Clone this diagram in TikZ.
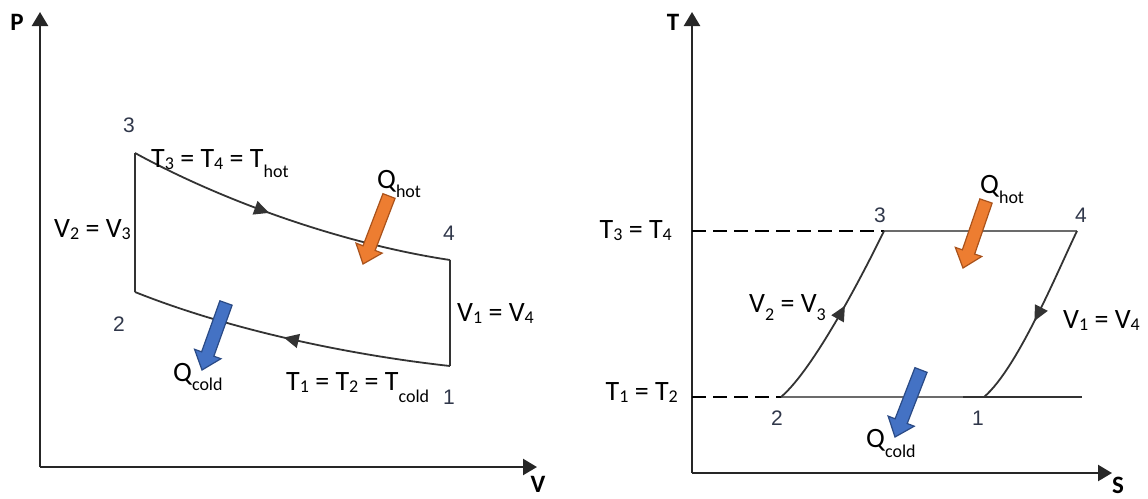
\documentclass[tikz,border=0pt]{standalone}
\usepackage{fontspec}
\setmainfont{Carlito}
\newfontfamily\numfont{Liberation Sans}
\usetikzlibrary{arrows.meta,calc,decorations.markings}
\definecolor{axisc}{HTML}{262626}
\definecolor{linec}{HTML}{333333}
\definecolor{lgray}{HTML}{6B6B6B}
\definecolor{numc}{HTML}{30374A}
\definecolor{ofill}{HTML}{ED7D31}
\definecolor{odraw}{HTML}{A9521B}
\definecolor{bfill}{HTML}{4472C4}
\definecolor{bdraw}{HTML}{2A4A85}
\newcommand\lsub[2]{\raisebox{-#1pt}{\fontsize{18}{18}\selectfont #2}}
\newcommand\blockarrow[4]{%
  \path ($(#2)!17pt!(#1)$) coordinate (bh);
  \filldraw[fill=#3, draw=#4, line width=1.2pt, line join=miter]
    ($(#1)!6.5pt!90:(#2)$) -- ($(bh)!6.5pt!90:(#2)$) -- ($(bh)!14pt!90:(#2)$) -- (#2)
    -- ($(bh)!14pt!-90:(#2)$) -- ($(bh)!6.5pt!-90:(#2)$) -- ($(#1)!6.5pt!-90:(#2)$) -- cycle;
}
\tikzset{
  axis/.style={line width=2.4pt, draw=axisc, -{Triangle[length=14pt,width=16pt]}},
  axlab/.style={inner sep=0pt, font=\fontsize{25}{27}\selectfont\bfseries, text=black},
  lab/.style={inner sep=0pt, font=\fontsize{28}{30}\selectfont, text=black},
  num/.style={inner sep=0pt, font=\fontsize{21}{22}\selectfont\numfont, text=numc},
  cyc/.style={line width=1.8pt, draw=linec},
  cycg/.style={line width=1.7pt, draw=lgray},
  dashline/.style={line width=2pt, draw=black, dash pattern=on 14pt off 7pt},
  midarrow/.style={postaction={decorate, decoration={markings,
      mark=at position #1 with {\arrow{Triangle[length=15pt,width=14pt]}}}}}
}
\begin{document}
\begin{tikzpicture}[x=1pt, y=-1pt]
\useasboundingbox (0,0) rectangle (1148,498);
% ---------- P-V diagram ----------
\coordinate (O1) at (40,467);
\coordinate (Ptop) at (40,12);
\coordinate (Vend) at (537,467);
\draw[axis] (O1) -- (Ptop);
\draw[axis] (O1) -- (Vend);
\node[axlab] (Plab) at (17,22) {P};
\node[axlab] (Vlab) at (538,484) {V};

\coordinate (p3) at (135,153);
\coordinate (p4) at (450,260);
\coordinate (p1) at (450,366);
\coordinate (p2) at (135,292);
\draw[cyc, line join=miter] (p2) -- (p3);
\draw[cyc, line join=miter] (p4) -- (p1);
\draw[cyc, midarrow=0.44] (p3) .. controls (230,205) and (350,245) .. (p4);
\draw[cyc, midarrow=0.52] (p1) .. controls (350,355) and (230,330) .. (p2);

\node[num] (n3a) at (129,125) {3};
\node[num] (n4a) at (449,233) {4};
\node[num] (n2a) at (119,324) {2};
\node[num] (n1a) at (449,397) {1};

\node[lab, anchor=base west] (Thot) at (151,167) {T\lsub{2}{3} = T\lsub{2}{4} = T\lsub{10}{hot}};
\node[lab, anchor=base east] (V23a) at (131,237) {V\lsub{2}{2} = V\lsub{2}{3}};
\node[lab, anchor=base west] (V14a) at (457,321) {V\lsub{2}{1} = V\lsub{2}{4}};
\node[lab, anchor=base west] (Tcold) at (286,390) {T\lsub{2}{1} = T\lsub{2}{2} = T\lsub{12}{cold}};
\node[lab, anchor=base west] (Qha) at (377,188) {Q\lsub{9}{hot}};
\node[lab, anchor=base west] (Qca) at (173,381) {Q\lsub{9}{cold}};

\coordinate (oat) at (389,196);
\coordinate (oah) at (363,264);
\blockarrow{oat}{oah}{ofill}{odraw}
\coordinate (bat) at (226,303);
\coordinate (bah) at (202,370);
\blockarrow{bat}{bah}{bfill}{bdraw}

% ---------- T-S diagram ----------
\coordinate (O2) at (692,473);
\coordinate (Ttop) at (692,12);
\coordinate (Send) at (1112,473);
\draw[axis] (O2) -- (Ttop);
\draw[axis] (O2) -- (Send);
\node[axlab] (Tlab) at (673,22) {T};
\node[axlab] (Slab) at (1118,485) {S};

\coordinate (s3) at (884,231);
\coordinate (s4) at (1077,231);
\coordinate (s1) at (984,397);
\coordinate (s2) at (781,397);
\coordinate (hl) at (692,231);
\coordinate (ll) at (692,397);
\coordinate (sx) at (963,397);
\coordinate (se) at (1082,397);
\draw[dashline] (hl) -- (s3);
\draw[dashline] (ll) -- (s2);
\draw[cycg] (s3) -- (s4);
\draw[cycg] (s2) -- (s1);
\draw[cyc] (sx) -- (se);
\draw[cyc, midarrow=0.57] (s2) .. controls (815,368) and (866,268) .. (s3);
\draw[cyc, midarrow=0.52] (s4) .. controls (1059,268) and (1018,368) .. (s1);

\node[num] (n3b) at (880,215) {3};
\node[num] (n4b) at (1081,215) {4};
\node[num] (n2b) at (777,418) {2};
\node[num] (n1b) at (978,418) {1};

\node[lab, anchor=base east] (T34) at (672,238) {T\lsub{2}{3} = T\lsub{2}{4}};
\node[lab, anchor=base east] (T12) at (678,400) {T\lsub{2}{1} = T\lsub{2}{2}};
\node[lab, anchor=base west] (V23b) at (749,312) {V\lsub{8}{2} = V\lsub{8}{3}};
\node[lab, anchor=base west] (V14b) at (1063,328) {V\lsub{2}{1} = V\lsub{2}{4}};
\node[lab, anchor=base west] (Qhb) at (980,193) {Q\lsub{10}{hot}};
\node[lab, anchor=base west] (Qcb) at (866,447) {Q\lsub{10}{cold}};

\coordinate (obt) at (986,201);
\coordinate (obh) at (963,268);
\blockarrow{obt}{obh}{ofill}{odraw}
\coordinate (bbt) at (921,370);
\coordinate (bbh) at (895,437);
\blockarrow{bbt}{bbh}{bfill}{bdraw}
\end{tikzpicture}
\end{document}
